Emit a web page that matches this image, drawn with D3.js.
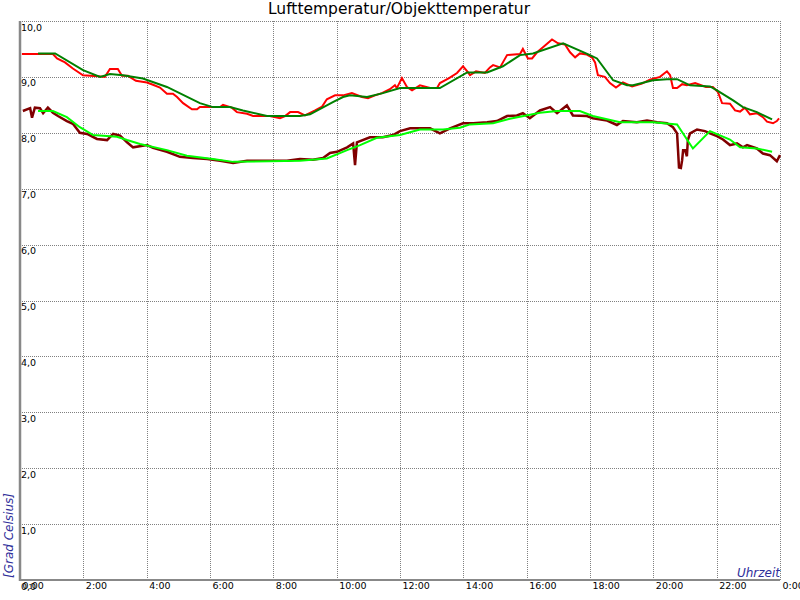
<!DOCTYPE html>
<html>
<head>
<meta charset="utf-8">
<script src="https://cdn.jsdelivr.net/npm/d3@7"></script>
<style>
html,body{margin:0;padding:0;background:#fff;}
svg{display:block;font-family:"DejaVu Sans",sans-serif;}
</style>
</head>
<body>
<svg id="chart" width="800" height="600"></svg>
<script>
// ---- data (hours since 0:00, degrees Celsius) ----
const title = "Lufttemperatur/Objekttemperatur";
const yTitle = "[Grad Celsius]";
const xTitle = "Uhrzeit";
const xTickValues = [0,2,4,6,8,10,12,14,16,18,20,22,24];
const xTickLabels = ["0:00","2:00","4:00","6:00","8:00","10:00","12:00","14:00","16:00","18:00","20:00","22:00","0:00"];
const yTickValues = [0,1,2,3,4,5,6,7,8,9,10];
const yTickLabels = ["0,0","1,0","2,0","3,0","4,0","5,0","6,0","7,0","8,0","9,0","10,0"];

// Lufttemperatur (raw, red)
const airTimes = [0.06,1.04,1.17,1.42,1.67,1.99,2.46,2.68,2.84,3.09,3.22,3.41,3.66,4.01,4.2,4.42,4.64,4.83,4.96,5.15,5.43,5.59,5.68,6.32,6.41,6.69,6.85,7.17,7.36,7.89,8.21,8.37,8.53,8.78,9.0,9.32,9.54,9.69,9.95,10.2,10.48,10.8,10.99,11.21,11.43,11.68,11.84,11.9,12.06,12.22,12.38,12.63,12.95,13.17,13.26,13.55,13.8,13.99,14.15,14.21,14.4,14.68,14.84,14.94,15.16,15.38,15.79,15.88,16.04,16.17,16.33,16.58,16.8,16.99,17.21,17.37,17.53,17.68,17.9,18.06,18.16,18.25,18.47,18.63,18.82,19.04,19.33,19.64,19.89,20.21,20.43,20.53,20.62,20.75,20.91,21.06,21.32,21.66,21.88,22.04,22.17,22.42,22.58,22.74,22.89,23.05,23.27,23.46,23.59,23.78,23.9,23.97];
const airValues = [9.41,9.41,9.33,9.26,9.15,9.03,9.01,9.0,9.14,9.14,9.02,9.02,8.93,8.9,8.86,8.81,8.7,8.7,8.64,8.53,8.42,8.42,8.46,8.46,8.5,8.45,8.37,8.34,8.3,8.3,8.26,8.3,8.37,8.37,8.31,8.4,8.47,8.6,8.67,8.67,8.71,8.64,8.62,8.67,8.71,8.78,8.85,8.8,8.98,8.82,8.76,8.85,8.8,8.8,8.89,8.98,9.07,9.19,9.08,9.03,9.1,9.07,9.17,9.21,9.17,9.39,9.41,9.5,9.33,9.33,9.44,9.56,9.67,9.6,9.58,9.44,9.35,9.42,9.4,9.35,9.26,9.03,9.0,8.89,8.81,8.9,8.83,8.88,8.95,9.0,9.1,9.03,8.8,8.8,8.87,8.85,8.89,8.82,8.82,8.73,8.53,8.52,8.4,8.38,8.45,8.33,8.35,8.28,8.2,8.17,8.21,8.26];

// Lufttemperatur (smoothed, dark green)
const airSmoothTimes = [0.57,1.11,1.99,2.53,2.84,3.25,3.88,4.64,5.68,6.09,6.63,7.04,7.8,8.84,9.16,9.88,10.2,10.42,10.96,11.46,12.0,13.26,14.12,14.75,15.25,15.79,16.2,17.15,18.0,18.22,18.73,19.17,19.36,19.99,20.43,20.75,21.16,21.79,22.01,22.52,22.83,23.27,23.75];
const airSmoothValues = [9.42,9.42,9.12,9.0,9.05,9.03,8.97,8.82,8.53,8.46,8.46,8.4,8.3,8.3,8.33,8.55,8.64,8.67,8.64,8.71,8.8,8.8,9.08,9.08,9.19,9.39,9.42,9.6,9.39,9.33,8.94,8.85,8.85,8.94,8.96,8.96,8.85,8.83,8.76,8.58,8.46,8.37,8.24];

// Objekttemperatur (raw, maroon)
const objTimes = [0.09,0.32,0.38,0.47,0.63,0.73,0.88,1.04,1.2,1.48,1.67,1.89,2.12,2.43,2.75,2.94,3.16,3.38,3.57,4.01,4.2,4.64,5.05,5.46,5.91,6.32,6.73,7.17,7.58,7.99,8.43,8.84,9.25,9.57,9.79,10.01,10.33,10.52,10.58,10.64,11.05,11.46,11.78,12.0,12.32,12.63,12.95,13.26,13.58,13.99,14.31,14.75,15.06,15.38,15.69,15.88,16.1,16.42,16.74,16.96,17.27,17.46,17.9,18.09,18.54,18.85,19.04,19.48,19.8,20.12,20.43,20.62,20.75,20.78,20.81,20.87,20.91,20.94,21.0,21.06,21.09,21.16,21.38,21.63,21.79,22.01,22.2,22.42,22.64,22.83,22.96,23.27,23.46,23.68,23.9,24.0];
const objValues = [8.39,8.44,8.27,8.45,8.44,8.35,8.45,8.36,8.3,8.21,8.16,8.0,7.98,7.89,7.87,7.98,7.95,7.83,7.74,7.78,7.73,7.66,7.57,7.55,7.53,7.5,7.46,7.5,7.5,7.5,7.5,7.53,7.52,7.55,7.64,7.66,7.74,7.81,7.42,7.83,7.92,7.92,7.96,8.03,8.08,8.08,8.08,7.99,8.08,8.17,8.17,8.19,8.21,8.3,8.31,8.35,8.26,8.4,8.46,8.35,8.49,8.31,8.3,8.26,8.22,8.14,8.21,8.19,8.22,8.19,8.17,8.1,7.99,7.69,7.38,7.37,7.51,7.69,7.69,7.58,7.87,7.99,8.06,8.03,7.99,7.94,7.88,7.78,7.81,7.74,7.78,7.72,7.63,7.6,7.49,7.6];

// Objekttemperatur (smoothed, bright green)
const objSmoothTimes = [0.57,1.04,1.48,1.89,2.31,3.06,3.38,3.79,4.64,5.27,6.09,6.73,8.84,9.69,10.33,10.74,11.27,12.0,12.63,13.36,13.89,14.21,14.94,15.47,16.42,16.96,17.68,18.09,18.95,19.99,20.75,21.25,21.79,22.42,22.74,23.27,23.75];
const objSmoothValues = [8.39,8.39,8.28,8.1,7.96,7.93,7.87,7.8,7.69,7.59,7.53,7.48,7.5,7.54,7.69,7.78,7.91,7.96,8.06,8.06,8.09,8.15,8.17,8.25,8.36,8.39,8.39,8.3,8.19,8.19,8.15,7.72,8.03,7.88,7.74,7.72,7.66];

// ---- drawing ----
const svg = d3.select("#chart");
const mLeft = 20, mRight = 780, mTop = 21, mBottom = 580;
const x = d3.scaleLinear().domain([0, 24]).range([mLeft, mRight]);
const y = d3.scaleLinear().domain([0, 10]).range([mBottom, mTop]);

// grid + axes
const gridColor = "#808080";
const yAxis = d3.axisLeft(y).tickValues(yTickValues)
  .tickFormat((d, i) => yTickLabels[i]).tickSize(-(mRight - mLeft)).tickSizeOuter(0);
const gy = svg.append("g").attr("transform", `translate(${mLeft},0)`).call(yAxis);
gy.select(".domain").remove();
gy.selectAll(".tick line").attr("stroke", gridColor).attr("stroke-dasharray", "1,1").attr("shape-rendering", "crispEdges");
gy.selectAll(".tick text").attr("x", 1).attr("dy", "0").attr("y", 9)
  .attr("text-anchor", "start").attr("fill", "#000").style("font-size", "9.5px").style("font-family", "DejaVu Sans");

const xAxis = d3.axisBottom(x).tickValues(xTickValues)
  .tickFormat((d, i) => xTickLabels[i]).tickSize(-(mBottom - mTop)).tickSizeOuter(0);
const gx = svg.append("g").attr("transform", `translate(0,${mBottom})`).call(xAxis);
gx.select(".domain").remove();
gx.selectAll(".tick line").attr("stroke", gridColor).attr("stroke-dasharray", "1,1").attr("shape-rendering", "crispEdges");
gx.selectAll(".tick text").attr("x", 2).attr("dy", "0").attr("y", 9)
  .attr("text-anchor", "start").attr("fill", "#000").style("font-size", "9.5px").style("font-family", "DejaVu Sans");

// solid axis lines
svg.append("line").attr("x1", x(0)).attr("x2", x(0)).attr("y1", y(10)).attr("y2", y(0) + 1)
  .attr("stroke", "#888").attr("stroke-width", 2.5);
svg.append("line").attr("x1", x(0)).attr("x2", x(24)).attr("y1", y(0)).attr("y2", y(0))
  .attr("stroke", "#888").attr("stroke-width", 2);

// lines
function drawSeries(times, values, color, width) {
  const pts = times.map((t, i) => [t, values[i]]);
  svg.append("path").datum(pts)
    .attr("fill", "none").attr("stroke", color).attr("stroke-width", width)
    .attr("stroke-linejoin", "miter")
    .attr("d", d3.line().x(d => x(d[0])).y(d => y(d[1])));
}
drawSeries(airTimes, airValues, "#ff0000", 2);
drawSeries(airSmoothTimes, airSmoothValues, "#008000", 2);
drawSeries(objTimes, objValues, "#800000", 2.5);
drawSeries(objSmoothTimes, objSmoothValues, "#00ff00", 2);

// titles
svg.append("text").attr("x", 399).attr("y", 14).attr("text-anchor", "middle")
  .style("font-size", "15.5px").attr("fill", "#000").text(title);
svg.append("text").attr("transform", `translate(13,578) rotate(-90)`).attr("text-anchor", "start")
  .style("font-size", "12px").style("font-style", "italic").attr("fill", "#2e2e9a").text(yTitle);
svg.append("text").attr("x", 780).attr("y", 577).attr("text-anchor", "end")
  .style("font-size", "12px").style("font-style", "italic").attr("fill", "#2e2e9a").text(xTitle);
</script>
</body>
</html>
